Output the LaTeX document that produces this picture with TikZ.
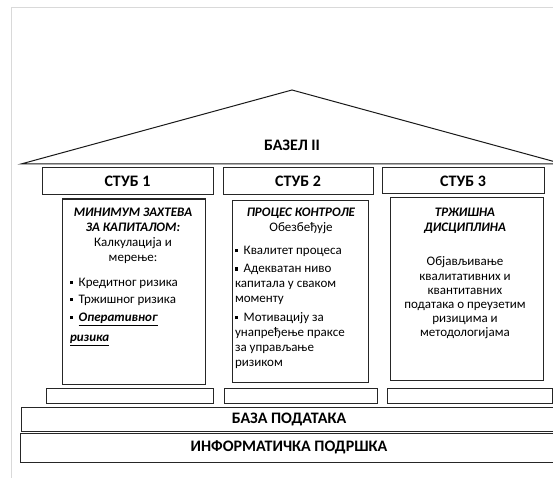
\documentclass[tikz,border=0pt]{standalone}
\usepackage{fontspec}
\setmainfont{Carlito}
% small square bullet
\newcommand\sqb{\raisebox{0.18em}{\rule{3.2pt}{3.2pt}}\hspace{5.5pt}}
% bold italic heading text
\newcommand\bi[1]{\textbf{\textit{#1}}}
\begin{document}
\begin{tikzpicture}[x=1pt,y=-1pt,
  box/.style={draw=black!85, line width=1pt, inner sep=0pt, outer sep=0pt,
    anchor=north west, font=\fontsize{16}{18}\selectfont\bfseries},
  txt/.style={inner sep=0pt, outer sep=0pt, font=\fontsize{13}{15}\selectfont},
  grid/.style={draw=black!15, line width=1pt}]
\useasboundingbox (0,0) rectangle (553,478);
\clip (0,0) rectangle (553,478);
\fill[white] (0,0) rectangle (553,478);

% sheet edge lines
\coordinate (gA) at (11,478);
\coordinate (gB) at (11,8);
\coordinate (gC) at (553,8);
\draw[grid] (gA) -- (gB) -- (gC);

% roof
\coordinate (rL) at (21,164);
\coordinate (rT) at (292,90);
\coordinate (rR) at (563,164);
\draw[black!90, line width=1pt, line join=miter] (rL) -- (rT) -- (rR) -- cycle;
\node[inner sep=0pt, font=\fontsize{16}{18}\selectfont\bfseries] (basel) at (292,145) {БАЗЕЛ II};

% pillar headers
\node[box, minimum width=171, minimum height=27] (s1) at (42,168) {СТУБ 1};
\node[box, minimum width=150, minimum height=27] (s2) at (223,168) {СТУБ 2};
\node[box, minimum width=162, minimum height=26] (s3) at (382,168) {СТУБ 3};

% pillar bodies
\node[box, minimum width=143, minimum height=185] (c1) at (62,199) {};
\node[box, minimum width=136, minimum height=182] (c2) at (232,200) {};
\node[box, minimum width=153, minimum height=182] (c3) at (390,198) {};

% pillar bases
\node[box, minimum width=167, minimum height=15] (p1) at (46,388) {};
\node[box, minimum width=153, minimum height=15] (p2) at (224,388) {};
\node[box, minimum width=165, minimum height=15] (p3) at (387,388) {};

% foundation
\node[box, minimum width=536, minimum height=24] (db) at (21,407) {БАЗА ПОДАТАКА};
\node[box, minimum width=538, minimum height=29] (it) at (20,433) {ИНФОРМАТИЧКА ПОДРШКА};

% pillar 1 text
\node[txt, anchor=north, align=center] (t1a) at (133,208)
  {\bi{МИНИМУМ ЗАХТЕВА}\\\bi{ЗА КАПИТАЛОМ:}\\Калкулација и\\мерење:};
\node[txt, anchor=north west, align=left] (t1b) at (70,278)
  {\sqb Кредитног ризика\\[2pt]\sqb Тржишног ризика\\[3pt]%
   \sqb\bi{\underline{Оперативног}}\\[5pt]%
   \bi{\underline{ризика}}};

% pillar 2 text
\node[txt, anchor=north, align=center] (t2a) at (301,208)
  {\bi{ПРОЦЕС КОНТРОЛЕ}\\Обезбеђује};
\node[txt, anchor=north west, align=left] (t2b) at (235,246)
  {\sqb Квалитет процеса\\[3.5pt]\sqb Адекватан ниво\\капитала у сваком\\моменту\\[3.5pt]%
   \sqb Мотивацију за\\унапређење праксе\\за управљање\\ризиком};

% pillar 3 text
\node[txt, anchor=north, align=center] (t3a) at (465,208)
  {\bi{ТРЖИШНА}\\\bi{ДИСЦИПЛИНА}};
\node[txt, anchor=north, align=center, font=\fontsize{13}{14.2}\selectfont] (t3b) at (465,257)
  {Објављивање\\квалитативних и\\квантитавних\\података о преузетим\\ризицима и\\методологијама};
\end{tikzpicture}
\end{document}
